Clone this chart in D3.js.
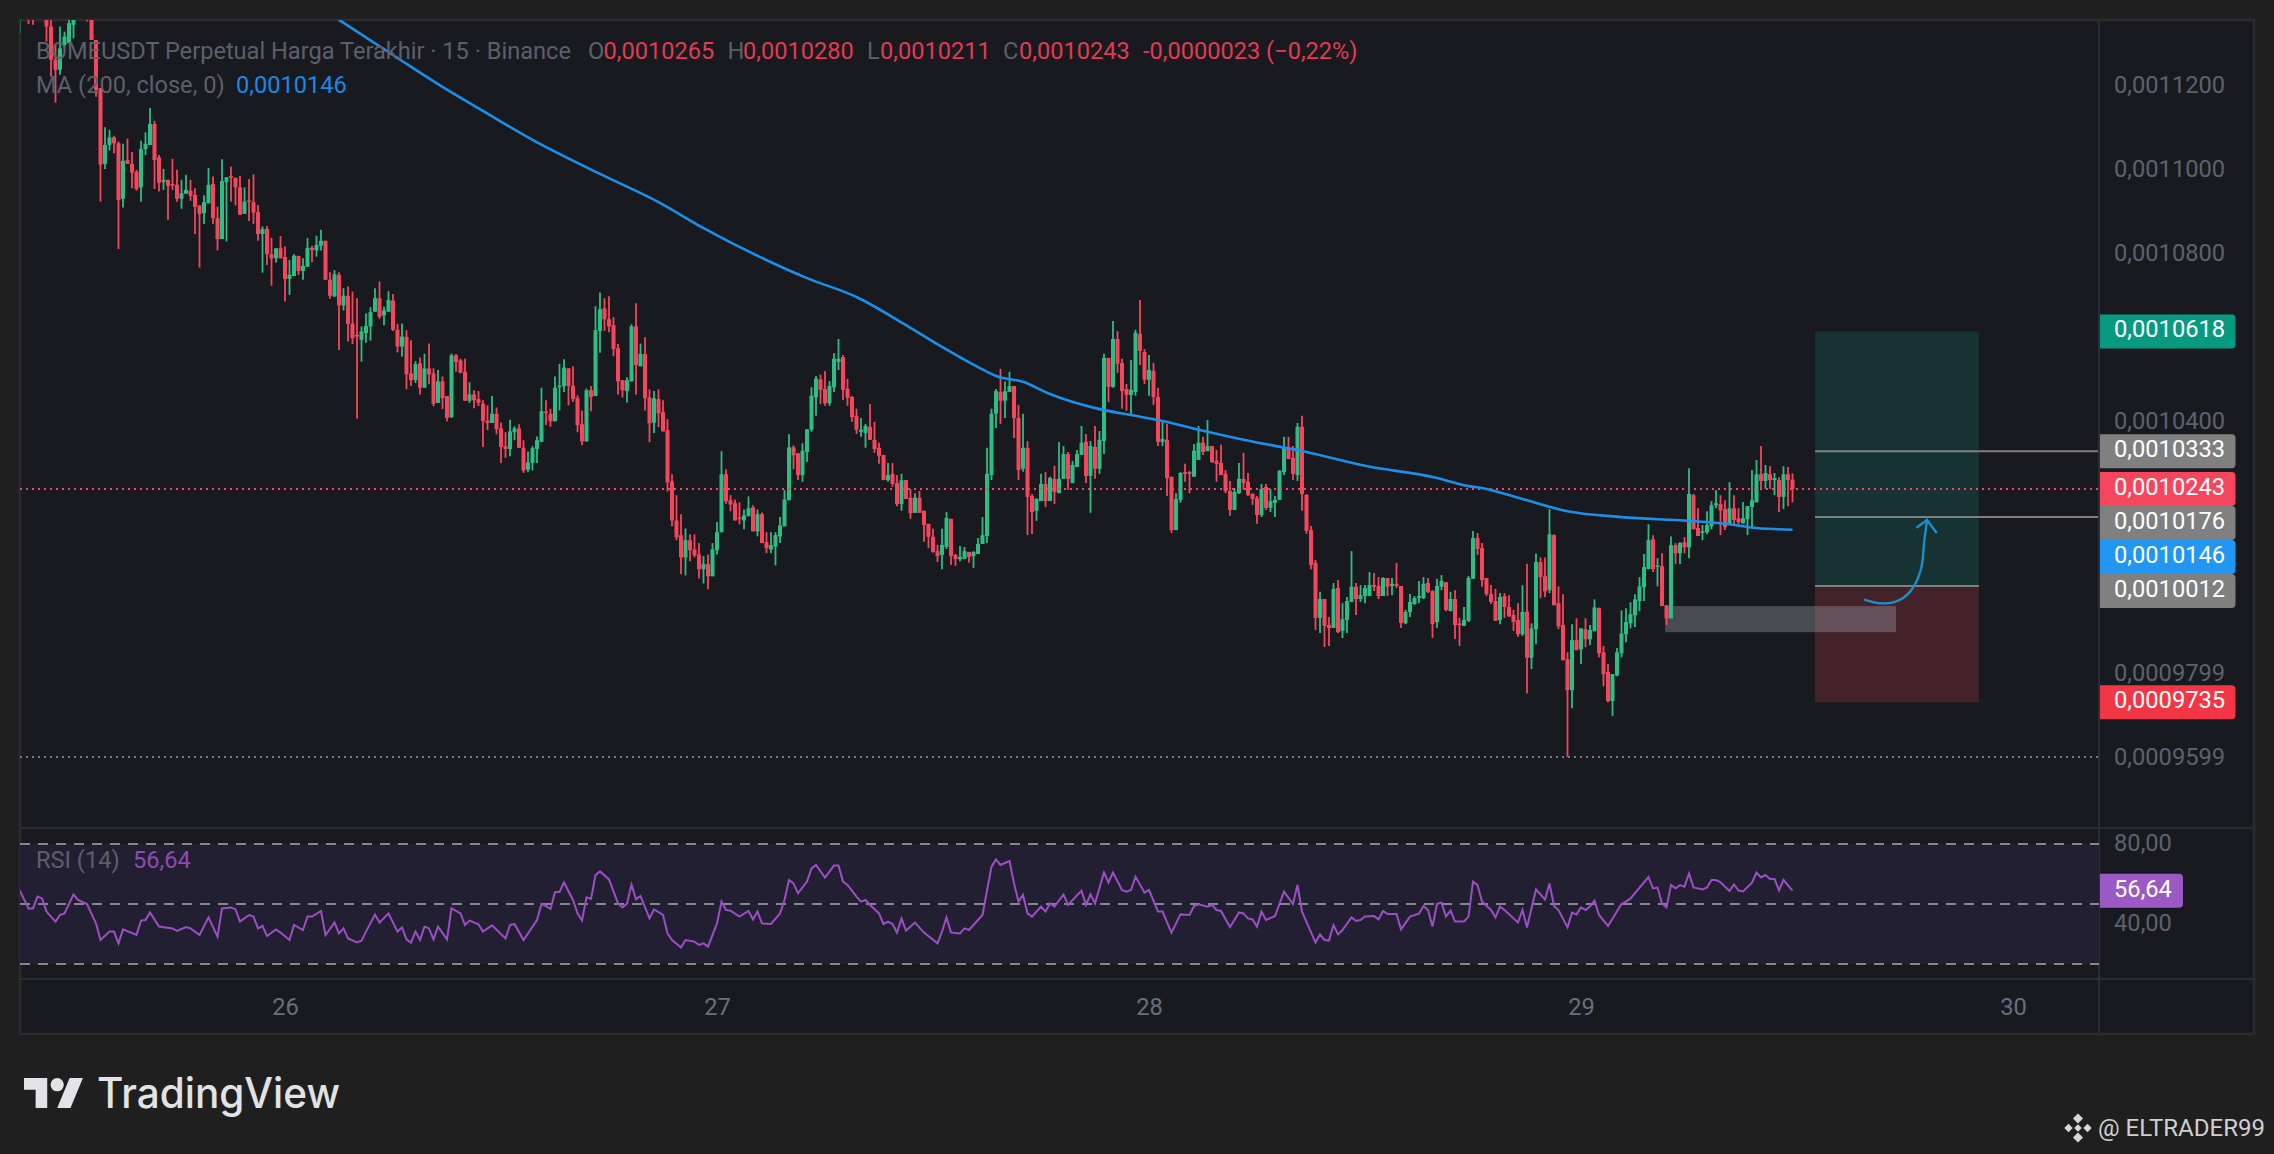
<!DOCTYPE html>
<html><head><meta charset="utf-8">
<script src="https://cdn.jsdelivr.net/npm/d3@7/dist/d3.min.js"></script>
<style>html,body{margin:0;padding:0;background:#1f1f1f;overflow:hidden}svg{display:block}text{font-family:Roboto,sans-serif}</style>
</head><body><svg id="c" width="2274" height="1154"></svg>
<script>
// Prices are in units of 0.0000001
const UNIT = 1e-7;
const opens = [
11362,11430,11420,11400,11460,11440,11420,11344,11265,11241,
11300,11304,11348,11420,11440,11400,11440,11312,11197,11017,
11062,11080,11066,10934,11026,11017,10998,10961,11052,11062,
11112,11032,10974,10979,10969,10967,10934,10946,10953,10943,
10918,10900,10923,10969,10888,10838,10974,10988,10984,10961,
10898,10930,10926,10902,10850,10862,10802,10792,10816,10795,
10743,10750,10798,10762,10772,10817,10811,10822,10834,10741,
10701,10753,10680,10703,10637,10610,10598,10614,10630,10665,
10697,10656,10665,10691,10622,10582,10605,10518,10502,10542,
10484,10530,10518,10448,10499,10464,10414,10561,10549,10522,
10453,10468,10457,10446,10406,10400,10422,10387,10345,10338,
10378,10387,10341,10289,10305,10338,10355,10427,10422,10404,
10486,10488,10530,10489,10459,10397,10356,10478,10464,10619,
10673,10647,10633,10578,10502,10476,10499,10630,10535,10564,
10461,10401,10457,10426,10383,10261,10168,10133,10080,10121,
10099,10087,10052,10064,10035,10097,10140,10278,10216,10209,
10175,10168,10178,10199,10142,10183,10116,10099,10106,10130,
10154,10216,10342,10328,10276,10331,10384,10461,10504,10481,
10447,10485,10545,10557,10481,10462,10417,10379,10376,10391,
10360,10341,10324,10264,10279,10257,10207,10264,10222,10186,
10222,10191,10160,10129,10095,10086,10105,10172,10086,10076,
10076,10093,10083,10088,10112,10131,10276,10422,10474,10453,
10474,10488,10412,10291,10341,10226,10191,10214,10255,10214,
10267,10233,10267,10326,10257,10295,10324,10355,10274,10343,
10291,10357,10555,10486,10600,10543,10481,10467,10474,10612,
10569,10503,10524,10462,10355,10360,10272,10145,10217,10283,
10283,10272,10312,10353,10333,10345,10310,10305,10279,10238,
10193,10233,10267,10260,10231,10221,10181,10248,10198,10210,
10217,10283,10341,10317,10276,10391,10229,10145,10067,9936,
9981,9919,9912,10007,9905,9931,9974,10010,9981,9988,
9988,10014,10012,9988,10031,10012,10017,10012,9923,9950,
9969,9983,9983,10019,10000,9926,10010,10021,9952,9981,
9923,9917,9929,10029,10126,10102,10031,9993,9976,9931,
9988,9962,9943,9931,9897,9951,9841,9909,10069,10035,
10002,10133,9971,9919,9838,9764,9883,9861,9909,9885,
9904,9959,9854,9807,9738,9799,9852,9897,9923,9942,
9976,10009,10052,10123,10059,10059,9966,9935,10109,10090,
10116,10104,10228,10150,10138,10140,10154,10204,10207,10195,
10157,10197,10173,10161,10171,10200,10211,10278,10262,10278,
10264,10264,10224,10278,10265];
const closes = [
11390,11410,11375,11370,11430,11410,11344,11265,11241,11292,
11320,11352,11375,11400,11410,11370,11312,11193,11015,11062,
11080,11066,10931,11024,11017,10996,10957,11052,11065,11112,
11026,10972,10979,10965,10965,10934,10947,10955,10941,10915,
10898,10926,10967,10888,10838,10976,10985,10984,10961,10896,
10927,10927,10901,10850,10862,10802,10792,10816,10792,10743,
10753,10798,10762,10774,10817,10812,10824,10834,10741,10703,
10754,10680,10703,10636,10602,10606,10618,10631,10664,10697,
10653,10668,10693,10622,10582,10606,10516,10502,10540,10484,
10530,10516,10446,10499,10459,10412,10561,10545,10520,10453,
10468,10454,10448,10405,10400,10422,10385,10343,10338,10380,
10387,10341,10287,10306,10340,10359,10428,10424,10404,10484,
10489,10532,10488,10457,10395,10356,10478,10462,10621,10671,
10647,10630,10576,10499,10478,10502,10630,10538,10564,10459,
10399,10459,10423,10380,10259,10168,10128,10080,10121,10097,
10085,10052,10064,10035,10099,10140,10278,10214,10206,10168,
10171,10180,10197,10142,10183,10114,10102,10109,10133,10156,
10218,10342,10323,10276,10334,10385,10465,10506,10479,10447,
10488,10553,10553,10479,10460,10414,10384,10384,10393,10360,
10338,10322,10264,10276,10255,10207,10264,10219,10185,10222,
10186,10157,10129,10093,10083,10110,10174,10083,10076,10081,
10095,10081,10093,10112,10133,10279,10422,10476,10453,10476,
10488,10412,10288,10341,10224,10188,10219,10255,10214,10269,
10236,10267,10326,10267,10300,10326,10353,10274,10345,10291,
10360,10555,10486,10600,10541,10476,10467,10479,10615,10572,
10503,10526,10462,10355,10362,10269,10145,10219,10281,10279,
10279,10334,10353,10331,10345,10307,10303,10276,10238,10193,
10236,10267,10257,10229,10219,10181,10243,10198,10214,10217,
10286,10341,10314,10279,10391,10231,10143,10062,9936,9981,
9917,9912,10005,9902,9933,9976,10010,9981,9990,10007,
10014,10010,9988,10031,10010,10017,10012,9924,9950,9974,
9983,9988,10017,9998,9921,10012,10024,9955,9981,9919,
9919,9931,10031,10126,10100,10026,9993,9974,9929,9986,
9962,9940,9926,9897,9950,9841,9911,10069,10033,9999,
10135,9966,9916,9835,9764,9883,9859,9911,9885,9907,
9961,9852,9802,9738,9802,9854,9899,9926,9945,9980,
10011,10057,10121,10052,10061,9964,9935,10109,10090,10114,
10104,10231,10147,10131,10142,10157,10204,10209,10192,10152,
10197,10169,10164,10173,10202,10216,10278,10262,10281,10264,
10269,10224,10278,10264,10243];
const highs = [
11420,11450,11440,11420,11480,11470,11450,11420,11300,11344,
11332,11380,11390,11440,11460,11430,11460,11312,11197,11104,
11098,11084,11070,11065,11077,11045,11003,11072,11092,11150,
11119,11038,11005,10979,11029,11003,10979,10991,10979,10959,
10918,10942,11007,10987,10915,11028,10985,11010,10984,10988,
10961,10981,10992,10919,10868,10869,10841,10816,10845,10820,
10788,10802,10798,10792,10840,10822,10846,10860,10834,10759,
10764,10759,10721,10725,10713,10697,10630,10661,10676,10721,
10737,10677,10714,10707,10636,10637,10621,10597,10547,10556,
10565,10589,10530,10526,10511,10464,10565,10564,10553,10553,
10497,10478,10476,10454,10442,10464,10437,10401,10378,10408,
10392,10397,10359,10332,10345,10368,10484,10454,10434,10511,
10541,10552,10530,10535,10466,10430,10482,10488,10678,10711,
10697,10702,10652,10588,10502,10509,10635,10685,10589,10604,
10480,10476,10480,10454,10409,10278,10228,10183,10149,10135,
10135,10114,10083,10087,10114,10164,10333,10290,10228,10218,
10211,10194,10225,10204,10194,10187,10140,10140,10140,10176,
10240,10373,10347,10328,10352,10386,10485,10512,10515,10524,
10500,10566,10600,10562,10505,10464,10434,10412,10398,10445,
10403,10353,10324,10305,10305,10276,10279,10264,10243,10233,
10238,10191,10160,10148,10110,10148,10188,10172,10088,10107,
10105,10093,10095,10126,10176,10341,10434,10481,10529,10499,
10522,10488,10443,10422,10357,10231,10221,10279,10283,10272,
10298,10355,10345,10331,10310,10336,10393,10374,10357,10393,
10381,10565,10555,10643,10619,10553,10493,10550,10622,10693,
10576,10562,10543,10484,10405,10398,10272,10233,10283,10303,
10286,10350,10393,10367,10407,10345,10336,10348,10288,10262,
10245,10305,10329,10281,10233,10226,10255,10255,10243,10226,
10288,10367,10367,10345,10400,10417,10231,10155,10074,9998,
9981,9938,10019,10026,9971,9986,10095,10019,10014,10014,
10045,10043,10033,10033,10031,10031,10067,10012,9955,9993,
9988,10024,10033,10031,10002,10029,10038,10021,9998,10002,
9936,9962,10036,10143,10138,10114,10031,10014,10005,9995,
9995,9990,9955,9971,10014,10065,9923,10089,10080,10080,
10195,10135,10011,9992,9854,9921,9935,9911,9935,9919,
9980,9961,9869,9826,9802,9864,9954,9959,9973,9992,
10033,10088,10159,10133,10078,10090,9966,10130,10114,10116,
10128,10292,10231,10197,10157,10190,10214,10240,10228,10216,
10259,10228,10197,10212,10202,10288,10312,10345,10300,10297,
10281,10271,10297,10295,10280];
const lows = [
11328,11395,11350,11348,11410,11390,11308,11225,11163,11229,
11292,11304,11316,11385,11395,11356,11312,11177,10927,11005,
11049,11042,10814,10913,11017,10959,10953,10927,11038,11062,
10957,10951,10955,10884,10955,10927,10910,10946,10929,10850,
10770,10874,10923,10874,10811,10838,10832,10927,10918,10896,
10898,10881,10874,10834,10758,10776,10727,10782,10792,10689,
10705,10750,10753,10741,10772,10783,10796,10811,10741,10696,
10701,10574,10668,10594,10588,10410,10546,10591,10596,10665,
10648,10633,10665,10619,10568,10558,10480,10488,10495,10468,
10484,10492,10440,10448,10433,10404,10412,10522,10518,10453,
10448,10435,10440,10343,10383,10400,10373,10305,10317,10321,
10359,10341,10281,10283,10287,10305,10355,10395,10391,10404,
10430,10474,10442,10450,10378,10347,10356,10428,10464,10567,
10619,10616,10559,10468,10461,10449,10499,10468,10535,10430,
10354,10376,10390,10380,10237,10154,10121,10040,10037,10071,
10080,10030,10018,10004,10035,10087,10140,10208,10190,10168,
10159,10147,10178,10142,10130,10114,10090,10090,10061,10114,
10154,10216,10290,10264,10260,10307,10379,10417,10445,10441,
10441,10474,10526,10455,10441,10403,10374,10367,10341,10360,
10329,10303,10264,10260,10248,10202,10191,10219,10172,10186,
10186,10117,10102,10091,10069,10052,10100,10062,10060,10071,
10076,10067,10055,10088,10112,10114,10264,10388,10398,10412,
10474,10364,10264,10284,10133,10136,10167,10214,10200,10214,
10207,10233,10267,10241,10257,10295,10324,10257,10186,10267,
10279,10326,10450,10484,10519,10434,10429,10419,10465,10538,
10493,10465,10443,10345,10345,10226,10138,10145,10210,10260,
10233,10272,10312,10324,10333,10305,10260,10276,10233,10179,
10193,10231,10241,10226,10205,10160,10176,10193,10188,10176,
10217,10276,10314,10264,10262,10191,10136,10052,9907,9900,
9867,9869,9912,9900,9888,9900,9974,9943,9974,9971,
9988,10000,9981,9988,9988,9990,10007,9912,9921,9938,
9967,9971,9981,9995,9888,9912,10002,9952,9952,9886,
9869,9917,9926,10029,10086,10010,9988,9969,9929,9921,
9936,9938,9905,9891,9893,9756,9814,9873,9983,9985,
9995,9966,9909,9835,9605,9721,9859,9826,9866,9871,
9904,9842,9773,9735,9702,9797,9842,9878,9911,9914,
9952,9976,10052,10045,10011,9964,9919,9935,10064,10064,
10090,10078,10147,10131,10121,10135,10147,10197,10133,10145,
10157,10159,10159,10161,10133,10150,10211,10240,10243,10243,
10228,10188,10195,10202,10211];

// 200-period moving average, read at these bars
const maBars = [71,84,93,103,114,129,142,152,165,175,186,197,205,213,217,223,229,240,247,254,264,272,286,299,315,321,326,334,344,356,371,379,386,394];
const maValues = [11360,11269,11207,11143,11074,10993,10926,10864,10793,10745,10700,10633,10581,10533,10512,10498,10469,10433,10419,10405,10379,10360,10331,10298,10269,10252,10243,10219,10190,10176,10167,10160,10150,10146];

// RSI (14), turning points
const rsiBars = [0,2,3,4,5,6,8,9,10,12,13,15,17,18,20,21,22,23,26,27,28,29,31,34,35,37,38,40,42,44,45,47,48,49,51,52,53,54,55,57,58,60,61,63,64,65,67,68,70,71,72,73,75,76,77,79,80,82,84,85,86,87,88,89,90,91,92,93,95,96,98,99,100,102,103,105,108,109,110,112,115,116,117,118,119,120,121,123,124,125,126,127,128,129,131,133,134,135,136,137,138,140,141,143,144,145,147,148,150,151,152,153,155,156,157,158,160,162,163,164,165,167,169,170,171,172,173,175,176,177,179,181,182,183,184,186,187,188,189,191,192,193,194,195,196,197,199,201,204,205,206,207,209,210,211,213,214,216,217,218,220,221,222,223,224,225,227,228,229,230,232,233,236,237,238,239,241,242,243,245,246,247,248,
250,251,253,254,256,258,260,261,262,264,265,266,267,269,271,272,273,274,275,276,277,279,281,283,284,285,288,289,290,291,292,293,294,296,297,298,299,301,302,303,304,306,307,309,311,312,313,314,315,316,317,318,319,321,322,323,324,325,327,328,329,330,333,334,335,337,339,340,341,342,344,345,346,347,348,349,350,351,353,356,357,358,362,363,364,365,366,367,368,369,370,371,372,374,375,376,377,378,380,381,382,383,385,386,387,388,389,390,391,392,394];
const rsiValues = [57,47.8,47.8,53.7,52.8,46.2,41.2,44.5,45.3,54.8,52,50,40.3,32,36.2,36.2,30.3,37.3,34.5,41.7,42,45.8,38.7,37.8,36.5,38.5,37.8,34.5,43.3,33.7,47.8,48.3,47.3,41.2,44.5,43.7,37.8,39,34,37.3,35.7,32,39.5,37,43.7,43.7,46.5,34.5,40.7,35.3,37.8,32.8,30.8,31.7,36.2,44.7,40.7,45.3,36.2,38.3,32.3,30.7,36.2,32,38.7,37.8,32.3,38.7,32.3,47.8,45.3,39.5,41.7,39.8,36.2,39.3,32.8,39.5,40,32,42,50,49,47.5,56,56,60.7,52,45.3,41.7,53.3,52.5,64.5,66.3,62.3,50.3,48.3,50.3,59.7,52.3,54,42.8,47.3,44.5,35.3,32,28.3,32,31.2,29.5,30.3,28.7,40.3,51.2,47,46.7,43.7,46.5,42.3,46.2,40.3,40,45.3,52,62,60.3,55.3,61.2,67.8,69.5,63.2,69.2,69.2,61.2,59.5,53.7,51.2,52,49.5,45.3,40,41.2,40,35.7,42.7,36.7,40.7,35.7,30.3,36.2,43.3,35.7,35.3,37.8,37,42,44.5,68.7,72.3,69.5,71.5,60.3,51.2,54.5,45.3,43.7,48.7,46.2,50.3,48.7,54.8,49.5,56.7,49.5,54.8,50.3,65.8,60.7,65.7,57,56.2,57,63.7,
55.7,57,46.2,46.2,35.7,44.8,44.5,49,49.8,48.7,49.5,47,46.5,38.5,45.8,45.3,42.8,42.3,38.7,46.2,42,44,56.2,50,59.5,46.2,30.7,34.8,32,31.7,39.5,34.8,37,43.3,41.5,42,43.8,44,42.3,46.5,45,45,37.3,43.7,45.2,49,47,38.7,50,50.7,43.7,46.7,41.2,41.3,43.7,61.2,59.5,51.2,47,43.3,48.7,47,40.7,47,38.3,57.3,52.3,60.3,49,47,38.3,45.7,44.8,48.3,47,48.7,51.7,44.5,39,50,51.2,52.8,63.5,57.8,58.2,50.3,48.3,59.5,57.8,59.5,58.7,65.3,58.3,57.3,58.3,62,62,60.8,56.5,59.8,56.7,56.3,60.7,65.7,63.3,64.5,62.5,62.5,56.8,62,56.64];

const priceTicks = [11200,11000,10800,10400,9799,9599];
const rsiBands = [80,50,20];
const rsiTicks = [80,40];
const dayBars = [59,155,251,347,443];
const dayLabels = ["26","27","28","29","30"];

const target = 10618, stop = 9735, entry = 10012;
const levelLines = [10333,10176];
const boxPrices = [10618,10333,10243,10176,10146,10012,9735];
const boxColors = ["#089981","#808080","#f6465d","#808080","#2196f3","#808080","#f23645"];
const zoneBars = [399,435.4];
const greyBars = [365.7,417];
const greyPrices = [9964,9902];
const arrowBars = [410.1,413.4,416.8,420.1,422.5,423.3,423.9];
const arrowPrices = [9979,9971,9974,9998,10050,10121,10169];
const headBars = [421.7,423.9,425.9];
const headPrices = [10152,10169,10140];

const legendTop = [["O",588,"#5d606b"],["0,0010265",603.5,"#e03c53"],["H",727.5,"#5d606b"],["0,0010280",743,"#e03c53"],["L",867,"#5d606b"],["0,0010211",880,"#e03c53"],["C",1003,"#5d606b"],["0,0010243",1019,"#e03c53"],["-0,0000023 (−0,22%)",1143,"#e03c53"]];

if (new Set([opens.length,closes.length,highs.length,lows.length]).size!==1) throw new Error("len "+[opens.length,closes.length,highs.length,lows.length]);
if (rsiBars.length!==rsiValues.length) throw new Error("rsi len "+rsiBars.length+" "+rsiValues.length);

const L=20,T=20,R=2099,MB=828,RB=979,B=1034,OR=2254;
const x = d3.scaleLinear().domain([59,443]).range([285,2013]);
const y = d3.scaleLinear().domain([11200,9200]).range([87,927]);
const yr = d3.scaleLinear().domain([80,20]).range([844,964]);
const fmt = v => (v*UNIT).toFixed(7).replace('.',',');
const svg = d3.select('#c');
const defs = svg.append('defs');
defs.append('clipPath').attr('id','main').append('rect').attr('x',L).attr('y',T).attr('width',R-L).attr('height',MB-T);
defs.append('clipPath').attr('id','rsi').append('rect').attr('x',L).attr('y',MB).attr('width',R-L).attr('height',RB-MB);

svg.append('rect').attr('width',2274).attr('height',1154).attr('fill','#1f1f1f');
svg.append('rect').attr('x',L).attr('y',T).attr('width',OR-L).attr('height',B-T).attr('fill','#181a20').attr('stroke','#2b2c30').attr('stroke-width',2.5);

// Trade zones
const main = svg.append('g').attr('clip-path','url(#main)');
main.append('rect').attr('x',x(zoneBars[0])).attr('width',x(zoneBars[1])-x(zoneBars[0])).attr('y',y(target)).attr('height',y(entry)-y(target)).attr('fill','#163233');
main.append('rect').attr('x',x(zoneBars[0])).attr('width',x(zoneBars[1])-x(zoneBars[0])).attr('y',y(entry)).attr('height',y(stop)-y(entry)).attr('fill','#44222a');
// Grey block
main.append('rect').attr('x',x(greyBars[0])).attr('width',x(greyBars[1])-x(greyBars[0])).attr('y',y(greyPrices[0])).attr('height',y(greyPrices[1])-y(greyPrices[0])).attr('fill','#9a9ca5').attr('fill-opacity',0.38);
// Level lines
main.selectAll('.lv').data(levelLines).join('line').attr('x1',x(zoneBars[0])).attr('x2',R).attr('y1',d=>y(d)).attr('y2',d=>y(d)).attr('stroke','#808080').attr('stroke-width',2);
main.append('line').attr('x1',x(zoneBars[0])).attr('x2',x(zoneBars[1])).attr('y1',y(entry)).attr('y2',y(entry)).attr('stroke','#808080').attr('stroke-width',2);

// Candles
const GREEN='#2ebd85',RED='#f6465d';
const idx = d3.range(opens.length);
const col = i => closes[i]>=opens[i]?GREEN:RED;
main.selectAll('.w').data(idx).join('line').attr('x1',i=>x(i)).attr('x2',i=>x(i)).attr('y1',i=>y(highs[i])).attr('y2',i=>y(lows[i])).attr('stroke',col).attr('stroke-width',1.8);
main.selectAll('.b').data(idx).join('rect').attr('x',i=>x(i)-2).attr('width',4).attr('y',i=>y(Math.max(opens[i],closes[i]))).attr('height',i=>Math.max(1.5,Math.abs(y(opens[i])-y(closes[i])))).attr('fill',col);

// Current and low lines
main.append('line').attr('x1',L).attr('x2',R).attr('y1',y(closes[closes.length-1])).attr('y2',y(closes[closes.length-1])).attr('stroke',RED).attr('stroke-width',2).attr('stroke-dasharray','2 4');
main.append('line').attr('x1',L).attr('x2',R).attr('y1',y(d3.min(lows))).attr('y2',y(d3.min(lows))).attr('stroke','#787b86').attr('stroke-width',2).attr('stroke-dasharray','2 4');

// MA
main.append('path').attr('d',d3.line().x((d,i)=>x(maBars[i])).y(d=>y(d)).curve(d3.curveMonotoneX)(maValues)).attr('fill','none').attr('stroke','#1e8fe8').attr('stroke-width',2.6);

// Arrow
main.append('path').attr('d',d3.line().x((d,i)=>x(arrowBars[i])).y(d=>y(d)).curve(d3.curveCatmullRom)(arrowPrices)).attr('fill','none').attr('stroke','#1c8fc9').attr('stroke-width',2.4).attr('stroke-linecap','round');
main.append('path').attr('d',d3.line().x((d,i)=>x(headBars[i])).y(d=>y(d))(headPrices)).attr('fill','none').attr('stroke','#1c8fc9').attr('stroke-width',2.4).attr('stroke-linecap','round');

// Pane separators
const sep='#2a2e39';
svg.append('line').attr('x1',L).attr('x2',OR).attr('y1',MB).attr('y2',MB).attr('stroke','#2b2c30').attr('stroke-width',2);
svg.append('line').attr('x1',L).attr('x2',OR).attr('y1',RB).attr('y2',RB).attr('stroke',sep).attr('stroke-width',2);
svg.append('line').attr('x1',R).attr('x2',R).attr('y1',T).attr('y2',B).attr('stroke',sep).attr('stroke-width',2);

// RSI pane
const rp = svg.append('g').attr('clip-path','url(#rsi)');
rp.append('rect').attr('x',L).attr('width',R-L).attr('y',yr(80)).attr('height',yr(20)-yr(80)).attr('fill','#231f33');
rp.selectAll('.bd').data(rsiBands).join('line').attr('x1',L).attr('x2',R).attr('y1',d=>yr(d)).attr('y2',d=>yr(d)).attr('stroke','#85878f').attr('stroke-width',2).attr('stroke-dasharray','10 8');
rp.append('path').attr('d',d3.line().x((d,i)=>x(rsiBars[i])).y(d=>yr(d))(rsiValues)).attr('fill','none').attr('stroke','#9c4fc4').attr('stroke-width',2);

// Axes
const axisColor='#5d626e', FS=23.7;
const ay = d3.axisRight(y).tickValues(priceTicks).tickFormat(fmt).tickSize(0);
const gy = svg.append('g').attr('transform',`translate(2114,0)`).call(ay);
gy.select('.domain').remove();
gy.selectAll('text').attr('x',0).attr('dy','5.5px').attr('fill',axisColor).attr('font-size',FS).attr('font-family','Roboto');
const ar = d3.axisRight(yr).tickValues(rsiTicks).tickFormat(d=>d+',00').tickSize(0);
const gr = svg.append('g').attr('transform',`translate(2114,0)`).call(ar);
gr.select('.domain').remove();
gr.selectAll('text').attr('x',0).attr('dy','6px').attr('fill',axisColor).attr('font-size',FS).attr('font-family','Roboto');
const at = d3.axisBottom(x).tickValues(dayBars).tickFormat((d,i)=>dayLabels[i]).tickSize(0);
const gt = svg.append('g').attr('transform',`translate(0,${RB})`).call(at);
gt.select('.domain').remove();
gt.selectAll('text').attr('y',36).attr('dy',0).attr('fill','#6a6f7c').attr('font-size',FS).attr('font-family','Roboto');

// Price boxes: each box is pushed below the last so none overlap, the live price stays put
const BH=34, BX=2100, BW=135.5;
const order = boxPrices.map((p,i)=>({p,c:boxColors[i]}));
let last = -1e9;
order.forEach(o=>{
  let cy = y(o.p);
  if (o.p<=10243 && cy-BH/2<last) cy = last+BH/2;
  o.cy = cy; last = cy+BH/2;
});
const rr=(bx,by,w,h,r)=>`M${bx},${by}H${bx+w-r}Q${bx+w},${by} ${bx+w},${by+r}V${by+h-r}Q${bx+w},${by+h} ${bx+w-r},${by+h}H${bx}Z`;
order.forEach(o=>{
  svg.append('path').attr('d',rr(BX,o.cy-BH/2,BW,BH,4)).attr('fill',o.c);
  svg.append('text').attr('x',2114).attr('y',o.cy+6).attr('fill','#fff').attr('font-size',FS).text(fmt(o.p));
});
svg.append('path').attr('d',rr(BX,yr(56.64)-17,83,34,4)).attr('fill','#9b59c6');
svg.append('text').attr('x',2114).attr('y',yr(56.64)+6).attr('fill','#fff').attr('font-size',FS).text('56,64');

// Legends
const lg='#5d606b';
svg.append('text').attr('x',36).attr('y',59).attr('fill',lg).attr('font-size',FS-0.1).text('BOMEUSDT Perpetual Harga Terakhir · 15 · Binance');
legendTop.forEach(d=>svg.append('text').attr('x',d[1]).attr('y',59).attr('fill',d[2]).attr('font-size',FS-0.1).text(d[0]));
svg.append('text').attr('x',36).attr('y',93).attr('fill',lg).attr('font-size',FS-0.1).text('MA (200, close, 0)');
svg.append('text').attr('x',236).attr('y',93).attr('fill','#1e88e5').attr('font-size',FS-0.1).text('0,0010146');
svg.append('text').attr('x',36).attr('y',868).attr('fill',lg).attr('font-size',FS-0.1).text('RSI (14)');
svg.append('text').attr('x',133).attr('y',868).attr('fill','#8e4cb5').attr('font-size',FS-0.1).text('56,64');

// TradingView mark
const logo = svg.append('g').attr('transform','translate(24,1071.4) scale(1.66)').attr('fill','#e1e3e6');
logo.append('path').attr('d','M14 22H7V11H0V4h14v18zM28 22h-8l7.5-18h8L28 22z');
logo.append('circle').attr('cx',20).attr('cy',8).attr('r',4);
svg.append('text').attr('x',97).attr('y',1108).attr('fill','#e1e3e6').attr('font-size',42).attr('font-weight',500).attr('textLength',243).attr('lengthAdjust','spacingAndGlyphs').style('font-family','Inter').text('TradingView');

// Author mark
const dm = svg.append('g').attr('fill','#d8d8d8').attr('transform','translate(2078,1128)');
[[0,-9.5,5],[0,9.5,5],[-9.5,0,4.2],[9.5,0,4.2],[0,0,3.8]].forEach(d=>dm.append('path').attr('d',`M${d[0]},${d[1]-d[2]}L${d[0]+d[2]},${d[1]}L${d[0]},${d[1]+d[2]}L${d[0]-d[2]},${d[1]}Z`));
svg.append('text').attr('x',2098).attr('y',1136).attr('fill','#d0d0d0').attr('font-size',23).attr('textLength',167).attr('lengthAdjust','spacingAndGlyphs').text('@ ELTRADER99');
</script></body></html>
